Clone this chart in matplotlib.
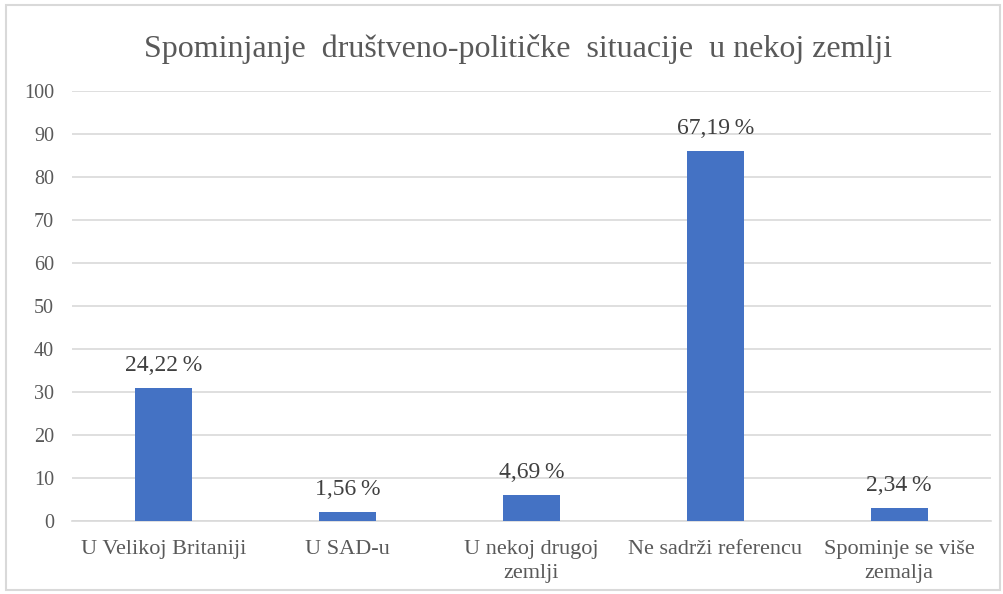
import matplotlib.pyplot as plt
from matplotlib.patches import Rectangle

categories = ["U Velikoj Britaniji", "U SAD-u", "U nekoj drugoj\nzemlji",
              "Ne sadrži referencu", "Spominje se više\nzemalja"]
counts = [31, 2, 6, 86, 3]
pct_labels = ["24,22\u2009%", "1,56\u2009%", "4,69\u2009%", "67,19\u2009%", "2,34\u2009%"]

plt.rcParams['font.family'] = ['Liberation Serif', 'DejaVu Serif']

fig = plt.figure(figsize=(10.04, 5.94), dpi=100)
ax = fig.add_axes([0.0717, 0.1229, 0.9153, 0.7239])

# okvir grafikona
fig.patches.append(Rectangle((0.006, 0.006), 0.99, 0.985, transform=fig.transFigure,
                             fill=False, edgecolor='#d9d9d9', linewidth=1.5))

x = range(len(categories))
bars = ax.bar(x, counts, width=0.31, color='#4472c4', zorder=3)
for b, lab in zip(bars, pct_labels):
    ax.text(b.get_x() + b.get_width() / 2, b.get_height() + 2.8, lab,
            ha='center', va='bottom', fontsize=17, color='#404040')

ax.set_xlim(-0.5, 4.5)
ax.set_ylim(0, 100)
ax.set_yticks(range(0, 101, 10))
ax.set_xticks(list(x))
ax.set_xticklabels(categories, fontsize=16, color='#595959', linespacing=1.3)
ax.tick_params(axis='y', labelsize=14.5, labelcolor='#595959', length=0, pad=13)
ax.tick_params(axis='x', length=0, pad=14)
ax.yaxis.grid(True, color='#d9d9d9', linewidth=1.2, zorder=0)
for s in ['top', 'right', 'left']:
    ax.spines[s].set_visible(False)
ax.spines['bottom'].set_color('#d9d9d9')
ax.spines['bottom'].set_linewidth(1.2)

fig.text(0.516, 0.918, "Spominjanje  društveno-političke  situacije  u nekoj zemlji",
         ha='center', va='center', fontsize=23, color='#595959')

plt.savefig("out.png", dpi=100)
